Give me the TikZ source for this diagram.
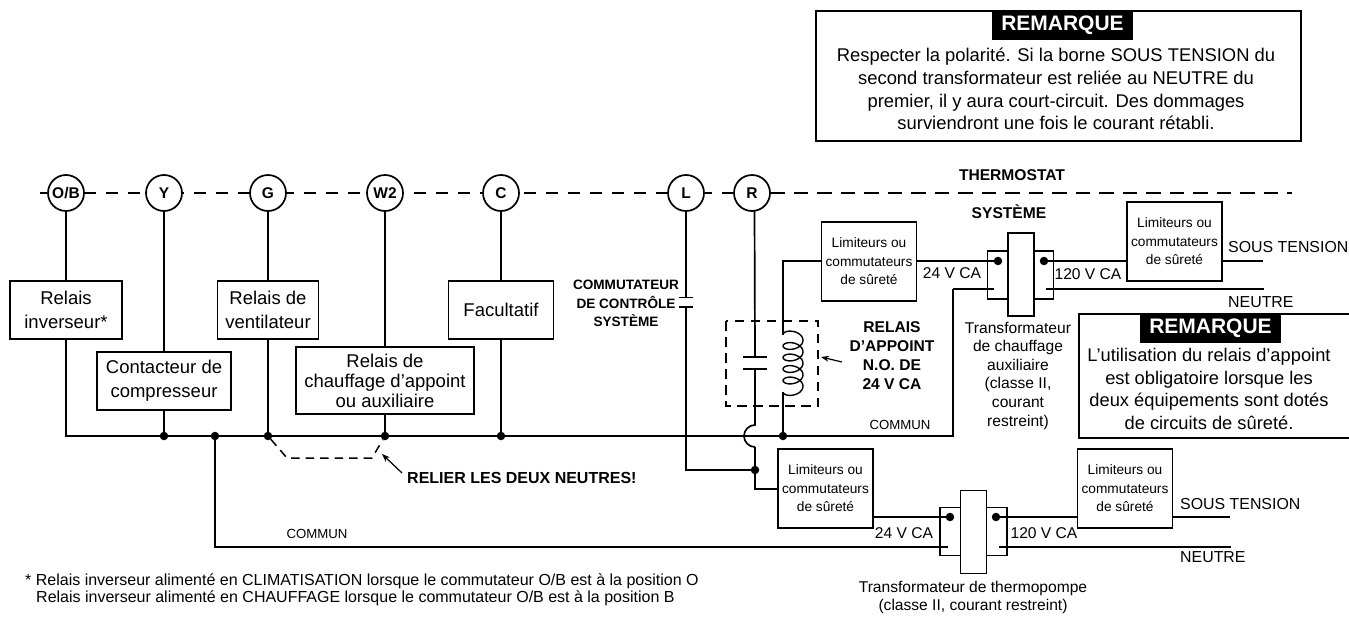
\documentclass[tikz,border=0pt]{standalone}
\usepackage{fontspec}
\setmainfont{Liberation Sans}
\usetikzlibrary{arrows.meta,calc}
\newcommand{\fs}[2]{\fontsize{#1}{#2}\selectfont}
\tikzset{
  wire/.style={line width=1.7pt, line join=miter},
  term/.style={circle, draw, line width=1.7pt, fill=white, minimum size=36pt, inner sep=0pt, outer sep=0pt, font=\bfseries\fs{15.5}{18}},
  devbox/.style={rectangle, draw, line width=1.7pt, fill=white, inner sep=0pt, outer sep=0pt, align=center, font=\fs{18.5}{24}},
  safety/.style={rectangle, draw, line width=1.7pt, fill=white, inner sep=0pt, outer sep=0pt, align=center, minimum width=95pt, minimum height=79pt, font=\fs{13.7}{18.5}},
  core/.style={rectangle, draw, line width=1.7pt, fill=white, inner sep=0pt, outer sep=0pt, minimum width=26pt, minimum height=83pt},
  winding/.style={rectangle, draw, line width=1.7pt, fill=white, inner sep=0pt, outer sep=0pt, minimum width=66pt, minimum height=48pt},
  dot/.style={circle, fill=black, inner sep=0pt, outer sep=0pt, minimum size=8.5pt},
  notebox/.style={rectangle, draw, line width=1.7pt, fill=white, inner sep=0pt, outer sep=0pt},
  notehead/.style={rectangle, fill=black, text=white, inner sep=0pt, outer sep=0pt, font=\bfseries\fs{21}{24}},
  notetext/.style={align=center, inner sep=0pt, font=\fs{18.4}{22.7}},
  label/.style={inner sep=0pt, align=center, font=\fs{15.6}{18.6}},
  boldlabel/.style={inner sep=0pt, align=center, font=\bfseries\fs{15.6}{18.8}},
  small/.style={inner sep=0pt, font=\fs{13.2}{15}},
  dashleft/.style={line width=1.7pt, dash pattern=on 11.5pt off 10.5pt},
  dashright/.style={line width=1.7pt, dash pattern=on 14.5pt off 9pt},
  pointer/.style={line width=1.2pt, -{Stealth[length=8pt,width=6pt]}}
}
\begin{document}
\begin{tikzpicture}[x=1pt,y=-1pt]
\path[use as bounding box, fill=white] (0,0) rectangle (1349,616);

% terminals
\coordinate (dashL) at (40,193);
\coordinate (dashR) at (1292,193);
\coordinate (dashM) at (770,193);
\draw[dashleft] (dashL) -- (dashM);
\draw[dashright] (dashM) -- (dashR);
\node[term] (ob) at (66,193) {O/B};
\node[term] (y)  at (164,193) {Y};
\node[term] (g)  at (268,193) {G};
\node[term] (w)  at (385,193) {W2};
\node[term] (c)  at (501,193) {C};
\node[term] (l)  at (686,193) {L};
\node[term] (r)  at (752,193) {R};

% devices
\node[devbox, minimum width=112pt, minimum height=58pt] (rinv) at (66,310) {Relais\\inverseur*};
\node[devbox, minimum width=134pt, minimum height=58pt] (cont) at (164,381) {Contacteur de\\compresseur};
\node[devbox, minimum width=101pt, minimum height=58pt] (vent) at (268,310) {Relais de\\ventilateur};
\node[devbox, minimum width=178pt, minimum height=67pt, font=\fs{18.5}{20}] (chau) at (385,380.5) {Relais de\\chauffage d’appoint\\ou auxiliaire};
\node[devbox, minimum width=105pt, minimum height=58pt] (facu) at (501,310) {Facultatif};

% bus junctions
\coordinate (busL) at (66,436);
\node[dot] (jy) at (164,436) {};
\node[dot] (jc) at (215,436) {};
\node[dot] (jg) at (268,436) {};
\node[dot] (jw) at (385,436) {};
\node[dot] (jf) at (501,436) {};
\node[dot] (jr) at (783,436) {};
\coordinate (busR) at (953,436);
\coordinate (busT) at (953,289);

% top-left wires
\draw[wire] (ob) -- (rinv);
\draw[wire] (y) -- (cont);
\draw[wire] (g) -- (vent);
\draw[wire] (w) -- (chau);
\draw[wire] (c) -- (facu);
\draw[wire] (rinv.south) -- (busL) -- (jy.center) -- (jc.center) -- (jg.center) -- (jw.center) -- (jf.center) -- (jr.center) -- (busR) -- (busT);
\draw[wire] (cont.south) -- (jy);
\draw[wire] (vent.south) -- (jg);
\draw[wire] (chau.south) -- (jw);
\draw[wire] (facu.south) -- (jf);

% bridge of neutrals
\coordinate (brA) at (287,458);
\coordinate (brB) at (372,458);
\draw[line width=1.5pt, dash pattern=on 8.5pt off 6pt] (jg) -- (brA) -- (brB) -- (jw);
\coordinate (relA) at (402,473);
\coordinate (relB) at (382,454);
\draw[pointer] (relA) -- (relB);
\node[boldlabel, anchor=west, font=\bfseries\fs{16}{18}] (relier) at (407,478) {RELIER LES DEUX NEUTRES!};

% L wire with contact
\coordinate (capLa) at (686,297.5);
\coordinate (capLb) at (686,307);
\coordinate (capLaL) at (679,297.5);
\coordinate (capLaR) at (693,297.5);
\coordinate (capLbL) at (679,307);
\coordinate (capLbR) at (693,307);
\node[dot] (jl) at (755,470) {};
\coordinate (lcorner) at (686,470);
\draw[wire] (l) -- (capLa);
\draw[wire] (capLb) -- (lcorner) -- (jl.center);
\draw[wire] (capLaL) -- (capLaR);
\draw[wire] (capLbL) -- (capLbR);
\node[boldlabel, font=\bfseries\fs{13.6}{18.6}] (comm) at (626,303.5) {COMMUTATEUR\\DE CONTRÔLE\\SYSTÈME};

% R wire with hop and contact
\coordinate (hopT) at (755,425);
\coordinate (hopB) at (755,447);
\coordinate (capRa) at (755,357);
\coordinate (capRb) at (755,369);
\coordinate (capRaL) at (743,357);
\coordinate (capRaR) at (767,357);
\coordinate (capRbL) at (743,369);
\coordinate (capRbR) at (767,369);
\draw[wire] (r.-82) -- (capRa);
\draw[wire] (capRb) -- (hopT) arc[start angle=-90, end angle=-270, radius=11];
\draw[wire] (capRaL) -- (capRaR);
\draw[wire] (capRbL) -- (capRbR);

% relay box
\coordinate (rbA) at (726,321);
\coordinate (rbB) at (818,406);
\draw[line width=1.5pt, dash pattern=on 9.5pt off 6.5pt] (rbA) rectangle (rbB);

% safety boxes
\node[safety] (s1) at (869,261.5) {Limiteurs ou\\commutateurs\\de sûreté};
\node[safety] (s2) at (1174.5,241.5) {Limiteurs ou\\commutateurs\\de sûreté};
\node[safety] (s3) at (825.5,488.5) {Limiteurs ou\\commutateurs\\de sûreté};
\node[safety] (s4) at (1125,488.5) {Limiteurs ou\\commutateurs\\de sûreté};

% transformer 1
\node[winding] (t1w) at (1020.5,275) {};
\node[core] (t1c) at (1021,274.5) {};
\node[dot] (t1a) at (998,261) {};
\node[dot] (t1b) at (1044,261) {};
\coordinate (t1n1) at (994,289);
\coordinate (t1n2) at (1046,289);
\coordinate (t1ne) at (1264,289);
\coordinate (t1st) at (1263,261);
% transformer 2
\node[winding, minimum width=67pt] (t2w) at (973.5,531.5) {};
\node[core] (t2c) at (973.5,532) {};
\node[dot] (t2a) at (950,517) {};
\node[dot] (t2b) at (996,517) {};
\coordinate (t2n1) at (948,547);
\coordinate (t2n2) at (999,547);
\coordinate (t2ne) at (1231,547);
\coordinate (t2st) at (1230,517);
\coordinate (t2nL) at (215,547);

% coil wire
\coordinate (s1in) at (783,261);
\coordinate (coilT) at (783,334.5);
\coordinate (coilB) at (783,392);
\draw[wire] (s1.west |- s1in) -- (s1in) -- (coilT);
\draw[wire] (coilB) -- (jr);
\draw[line width=1.4pt] plot[smooth, samples=121, domain=180:1980] ({793+10*cos(\x)},{334.5+(\x-180)/31.3+6*sin(\x)});
\coordinate (arrA) at (842,362);
\coordinate (arrB) at (821,357);
\draw[pointer] (arrA) -- (arrB);
\node[boldlabel] (appoint) at (892,355.5) {RELAIS\\D’APPOINT\\N.O. DE\\24 V CA};

% wires to safety and transformers
\draw[wire] (s1.east |- t1a) -- (t1a.center);
\draw[wire] (busT) -- (t1n1);
\draw[wire] (t1b.center) -- (s2.west |- t1b);
\draw[wire] (s2.east |- t1st) -- (t1st);
\draw[wire] (t1n2) -- (t1ne);
\coordinate (s3in) at (755,489);
\draw[wire] (hopB) -- (s3in) -- (s3.west |- s3in);
\draw[wire] (s3.east |- t2a) -- (t2a.center);
\draw[wire] (t2b.center) -- (s4.west |- t2b);
\draw[wire] (s4.east |- t2st) -- (t2st);
\draw[wire] (jc) -- (t2nL) -- (t2n1);
\draw[wire] (t2n2) -- (t2ne);

% labels
\node[label] (v1) at (952,273.5) {24 V CA};
\node[label] (v2) at (1088,274) {120 V CA};
\node[label] (v3) at (904,533.5) {24 V CA};
\node[label] (v4) at (1044,533.5) {120 V CA};
\node[label, anchor=west, font=\fs{15.9}{18}] (st1) at (1228,247) {SOUS TENSION};
\node[label, anchor=west, font=\fs{15.9}{18}] (ne1) at (1228,302) {NEUTRE};
\node[label, anchor=west, font=\fs{15.9}{18}] (st2) at (1180,504) {SOUS TENSION};
\node[label, anchor=west, font=\fs{15.9}{18}] (ne2) at (1180,557) {NEUTRE};
\node[small] (co1) at (900,425) {COMMUN};
\node[small] (co2) at (317,534) {COMMUN};
\node[label] (t1l) at (1018,375.5) {Transformateur\\de chauffage\\auxiliaire\\(classe II,\\courant\\restreint)};
\node[label] (t2l) at (973,597.5) {Transformateur de thermopompe\\(classe II, courant restreint)};
\node[boldlabel] (thermo) at (1012,175) {THERMOSTAT};
\node[boldlabel] (sys) at (1009,212) {SYSTÈME};

% top note
\node[notebox, minimum width=485pt, minimum height=130pt] (n1) at (1058.5,76) {};
\node[notehead, minimum width=141pt, minimum height=29pt] (h1) at (1062.5,25.5) {REMARQUE};
\node[notetext] (n1t) at (1056,89) {Respecter la polarité. Si la borne SOUS TENSION du\\second transformateur est reliée au NEUTRE du\\premier, il y aura court-circuit. Des dommages\\surviendront une fois le courant rétabli.};

% right note
\node[notebox, minimum width=272pt, minimum height=124pt] (n2) at (1215,376) {};
\node[notehead, minimum width=141pt, minimum height=29pt] (h2) at (1210.5,328.5) {REMARQUE};
\node[notetext, font=\fs{18.3}{22.8}] (n2t) at (1209,389) {L’utilisation du relais d’appoint\\est obligatoire lorsque les\\deux équipements sont dotés\\de circuits de sûreté.};

% footnote
\node[inner sep=0pt, anchor=north west, align=left, font=\fs{16}{17}] (fn) at (25,574) {* Relais inverseur alimenté en CLIMATISATION lorsque le commutateur O/B est à la position O\\
\hspace*{11pt}Relais inverseur alimenté en CHAUFFAGE lorsque le commutateur O/B est à la position B};
\end{tikzpicture}
\end{document}
